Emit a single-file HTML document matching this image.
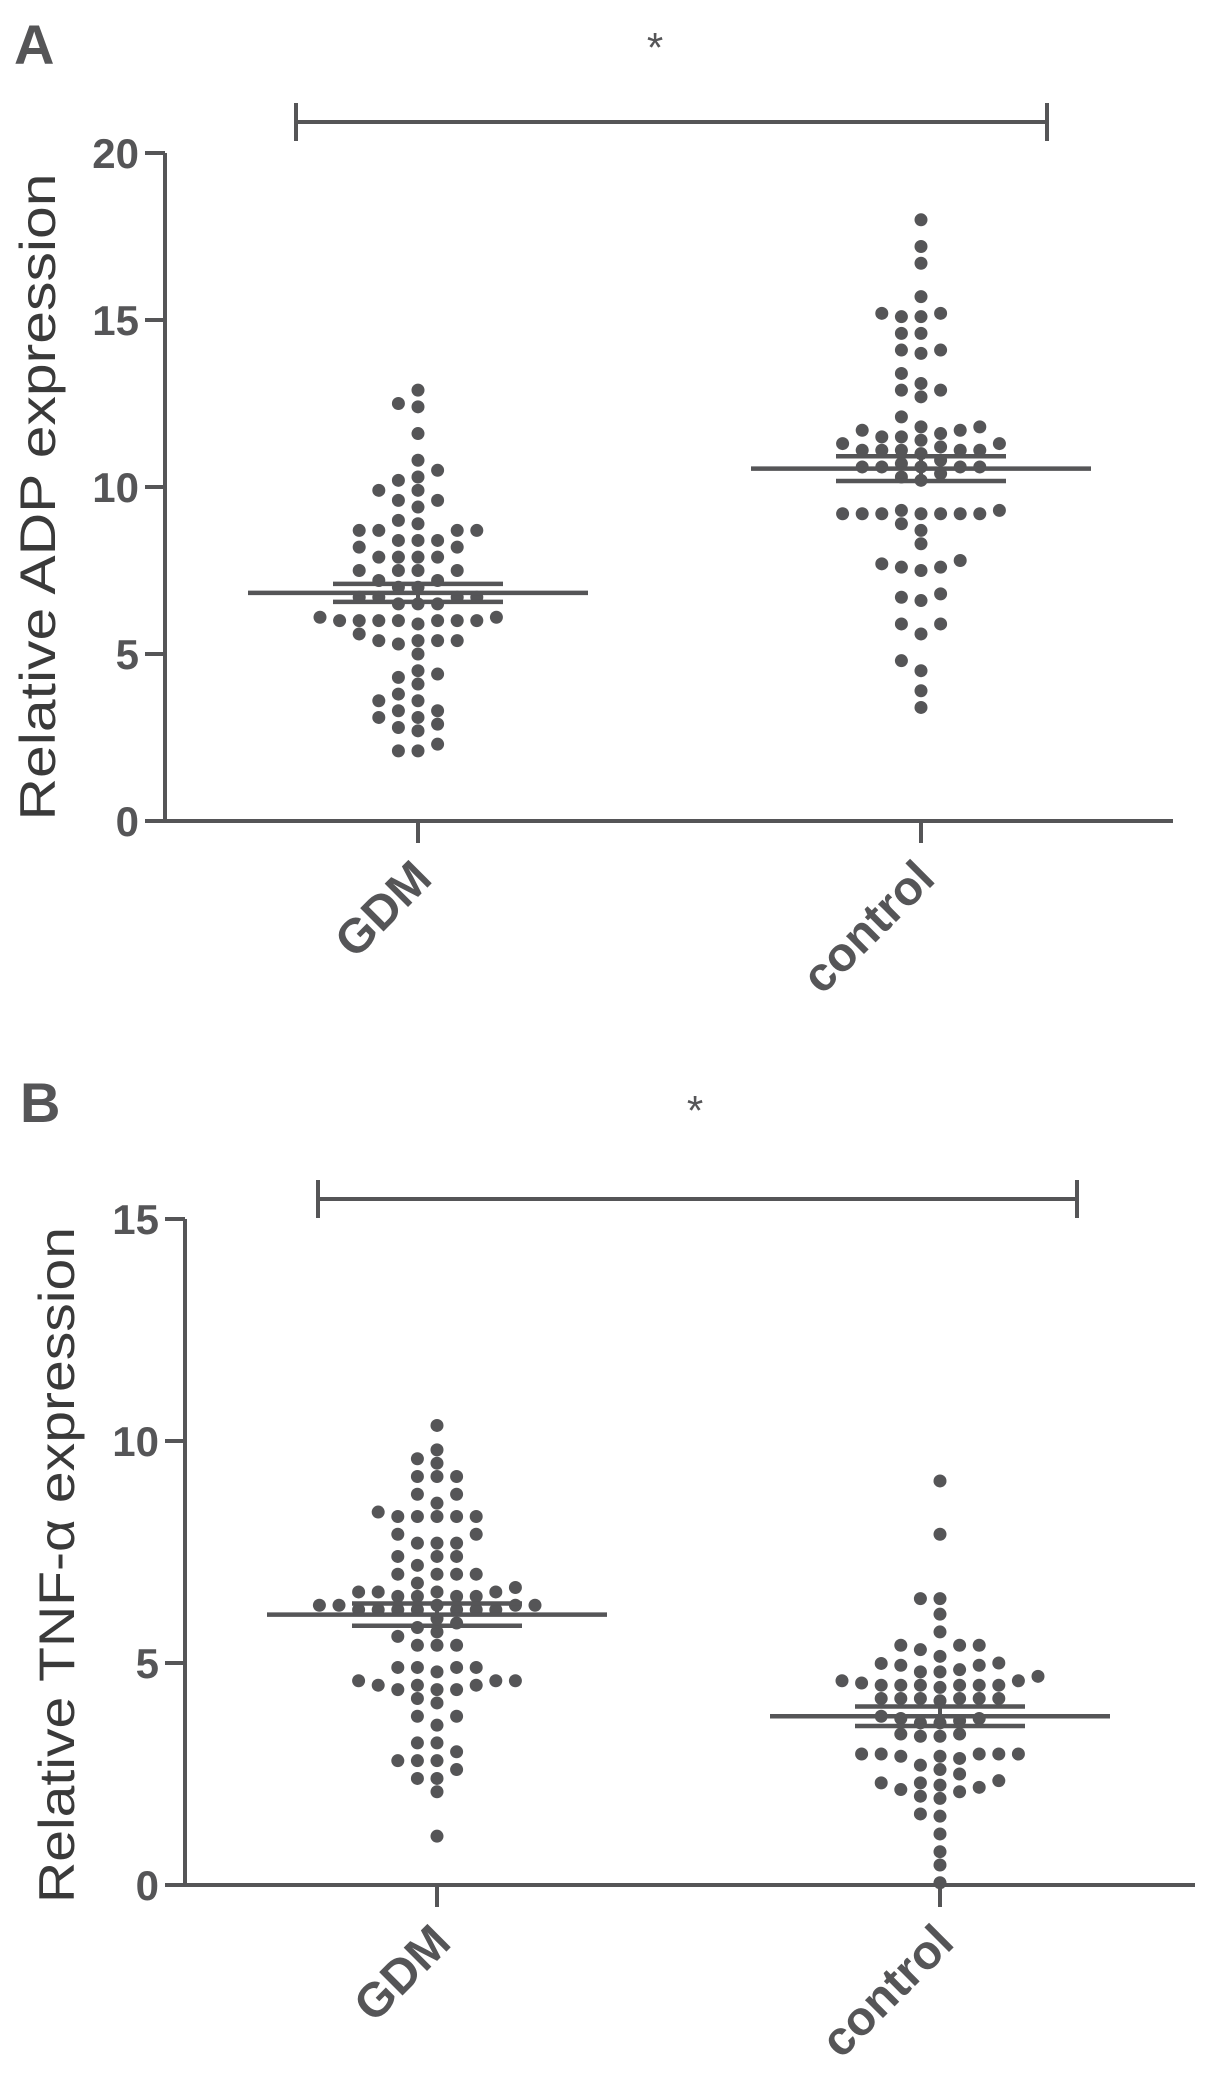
<!DOCTYPE html>
<html><head><meta charset="utf-8"><style>
html,body{margin:0;padding:0;background:#fff;}
svg{display:block;font-family:"Liberation Sans",Arial,sans-serif;}
</style></head><body>
<svg id="fig" width="1205" height="2082" viewBox="0 0 1205 2082">
<g id="panelA"></g>
<g id="panelB"></g>
</svg>
<script>
// ---- Panel A data (Relative ADP expression) ----
const categoriesA = ["GDM", "control"];
const gdmA = [12.9,12.4,12.5,11.6,10.8,10.2,10.3,10.5,9.9,9.9,9.6,9.6,9.4,8.9,9.0,8.7,8.7,8.7,8.7,8.4,8.4,8.4,8.2,8.2,7.9,7.9,7.9,7.9,7.5,7.5,7.5,7.5,7.2,7.2,7.0,7.0,6.7,6.7,6.7,6.7,6.5,6.5,6.5,6.1,6.0,6.0,5.9,6.0,6.0,6.0,6.0,6.0,6.1,5.4,5.3,5.6,5.4,5.4,5.4,5.0,4.5,4.3,4.4,4.1,3.8,3.6,3.6,3.3,3.3,3.1,2.9,3.1,2.7,2.8,2.3,2.1,2.1];
const controlA = [18.0,17.2,16.7,15.7,15.1,15.1,15.2,15.2,14.6,14.6,14.1,14.0,14.1,13.4,12.9,12.9,13.1,12.7,12.1,11.8,11.7,11.7,11.5,11.5,11.6,11.8,11.3,11.1,11.1,11.1,11.0,11.1,11.1,11.2,11.4,11.3,10.6,10.6,10.6,10.6,10.6,10.7,10.8,10.3,10.2,10.4,9.2,9.2,9.2,9.2,9.2,8.9,9.2,9.2,9.3,9.3,8.7,8.3,7.6,7.5,7.6,7.7,7.8,6.7,6.6,6.8,5.9,5.9,5.6,4.8,4.5,3.9,3.4];
const meanA = [6.83, 10.55];
const semA = [0.27, 0.37];
const ticksA = [0,5,10,15,20];

// ---- Panel B data (Relative TNF-alpha expression) ----
const categoriesB = ["GDM", "control"];
const gdmB = [10.35,9.6,9.5,9.8,9.2,9.2,9.2,8.8,8.8,8.6,8.3,8.3,8.3,8.4,8.3,8.3,7.9,7.9,7.7,7.7,7.7,7.4,7.4,7.4,7.2,7.0,7.0,7.0,7.0,6.8,6.6,6.6,6.5,6.5,6.5,6.5,6.6,6.6,6.7,6.3,6.3,6.3,6.2,6.2,6.2,6.2,6.2,6.2,6.2,6.3,6.3,5.7,5.8,5.9,6.0,5.4,5.4,5.4,5.6,4.9,4.9,4.9,4.9,4.8,4.6,4.6,4.6,4.5,4.5,4.4,4.4,4.4,4.5,4.2,4.1,3.8,3.8,3.6,3.2,3.2,3.0,2.8,2.8,2.8,2.4,2.4,2.6,2.1,1.1];
const controlB = [9.1,7.9,6.45,6.45,6.1,5.7,5.4,5.4,5.3,5.4,4.99,4.95,4.85,4.8,4.8,4.95,5.0,5.15,4.7,4.6,4.5,4.5,4.5,4.5,4.5,4.45,4.5,4.55,4.6,4.2,4.2,4.2,4.2,4.2,4.2,4.15,3.65,3.75,3.65,3.7,3.75,3.8,3.4,3.35,3.35,3.4,2.95,2.95,2.9,2.85,2.9,2.95,2.95,2.95,2.7,2.5,2.3,2.3,2.25,2.15,2.2,2.35,2.6,2.0,2.1,1.95,1.55,1.6,1.15,0.75,0.45,0.05];
const meanB = [6.09, 3.8];
const semB = [0.25, 0.22];
const ticksB = [0,5,10,15];

const NS = "http://www.w3.org/2000/svg";
const COL = "#555557";
function mk(tag, attrs, parent){
  const e = document.createElementNS(NS, tag);
  for (const k in attrs) e.setAttribute(k, attrs[k]);
  parent.appendChild(e);
  return e;
}

function drawPanel(g, cfg){
  const y = v => cfg.y0 - (v - 0) * (cfg.y0 - cfg.yTop) / (cfg.yMax);
  const xs = cfg.cx;
  const ya = mk("line", {x1:cfg.ax, y1:y(cfg.yMax), x2:cfg.ax, y2:cfg.y0, stroke:COL, "stroke-width":4}, g);
  
  
  const xa = mk("line", {x1:cfg.ax-20, y1:cfg.y0, x2:cfg.xEnd, y2:cfg.y0, stroke:COL, "stroke-width":4}, g);
  
  
  cfg.ticks.forEach(t => {
    const tl = mk("line", {x1:cfg.ax-20, y1:y(t), x2:cfg.ax, y2:y(t), stroke:COL, "stroke-width":4}, g);
    
    
    const tx = mk("text", {x:cfg.ax-26, y:y(t)+15, "text-anchor":"end", "font-size":42, "font-weight":"bold", fill:COL}, g);
    tx.textContent = t;
    
    
  });
  const yl = mk("text", {x:0, y:0, "text-anchor":"middle", "font-size":50, fill:"#3a3a3a",
    transform:`translate(${cfg.ylx},${cfg.yly}) rotate(-90)`, textLength:cfg.ylLen, lengthAdjust:"spacingAndGlyphs"}, g);
  yl.textContent = cfg.ylabel;
  
  
  const pl = mk("text", {x:cfg.lx, y:cfg.ly, "font-size":56, "font-weight":"bold", fill:COL}, g);
  pl.textContent = cfg.letter;
  
  
  const b = cfg.br;
  const bl = mk("path", {d:`M${b.x1},${b.t1}V${b.t2}M${b.x1},${b.y}H${b.x2}M${b.x2},${b.t1}V${b.t2}`, stroke:COL, "stroke-width":4, fill:"none"}, g);
  
  
  const st = mk("text", {x:b.sx, y:b.sy+22, "text-anchor":"middle", "font-size":42, fill:COL}, g);
  st.textContent = "*";
  
  

  cfg.series.forEach((vals, i) => {
    const cx = xs[i];
    const xt = mk("line", {x1:cx, y1:cfg.y0, x2:cx, y2:cfg.y0+22, stroke:COL, "stroke-width":4}, g);
    
    
    const lab = mk("text", {x:0, y:0, "text-anchor":"end", "font-size":48, "font-weight":"bold", fill:COL,
      transform:`translate(${cx+16},${cfg.y0+60}) rotate(-45)`}, g);
    lab.textContent = cfg.cats[i];
    
    
    const sorted = vals.slice().sort((a,b)=>a-b);
    const placed = {};
    const spacing = 19.6, minDy = 12.5;
    sorted.forEach(v => {
      const py = y(v);
      let col = 0;
      for (let n = 0; n < 40; n++){
        col = n === 0 ? 0 : (n % 2 ? -Math.ceil(n/2) : Math.ceil(n/2));
        const arr = placed[col] || [];
        if (arr.every(q => Math.abs(q - py) >= minDy)) break;
      }
      (placed[col] = placed[col] || []).push(py);
      const c = mk("circle", {cx:cx + col*spacing, cy:py, r:6.5, fill:COL}, g);
      
      
    });
    const m = cfg.mean[i], s = cfg.sem[i];
    const ml = mk("line", {x1:cx-cfg.mw, y1:y(m), x2:cx+cfg.mw, y2:y(m), stroke:COL, "stroke-width":4.5}, g);
    
    
    [m+s, m-s].forEach(v => {
      const sl = mk("line", {x1:cx-cfg.sw, y1:y(v), x2:cx+cfg.sw, y2:y(v), stroke:COL, "stroke-width":4.5}, g);
      
      
    });
    const vl = mk("line", {x1:cx, y1:y(m+s), x2:cx, y2:y(m-s), stroke:COL, "stroke-width":4}, g);
    
    
  });
}

drawPanel(document.getElementById("panelA"), {
  y0:821, yTop:153, yMax:20, ax:165, xEnd:1173, cx:[418,921],
  ticks:ticksA, cats:categoriesA, series:[gdmA, controlA], mean:meanA, sem:semA,
  ylabel:"Relative ADP  expression", ylx:55, yly:497, ylLen:647,
  letter:"A", lx:14, ly:64,
  br:{x1:296, x2:1047, y:122, t1:103, t2:141, sx:655, sy:40},
  mw:170, sw:85
});
drawPanel(document.getElementById("panelB"), {
  y0:1885, yTop:1219, yMax:15, ax:185, xEnd:1195, cx:[437,940],
  ticks:ticksB, cats:categoriesB, series:[gdmB, controlB], mean:meanB, sem:semB,
  ylabel:"Relative TNF-α  expression", ylx:74, yly:1565, ylLen:676,
  letter:"B", lx:20, ly:1122,
  br:{x1:318, x2:1077, y:1199, t1:1180, t2:1218, sx:695, sy:1103},
  mw:170, sw:85
});
</script>
</body></html>
